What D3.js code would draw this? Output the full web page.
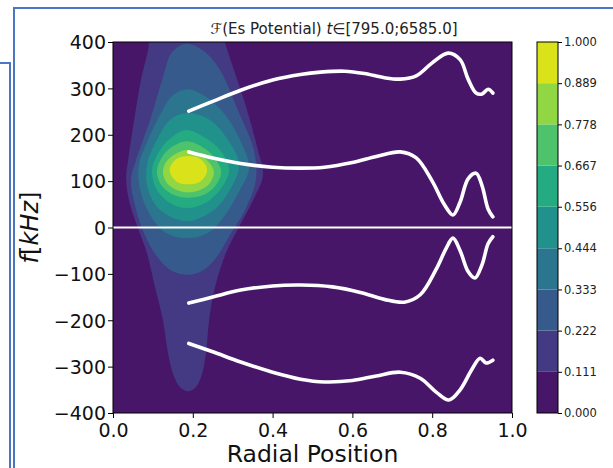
<!DOCTYPE html>
<html><head><meta charset="utf-8">
<script src="https://cdn.jsdelivr.net/npm/d3@7"></script>
<style>body{margin:0;background:#fff}svg{display:block}text{font-family:"DejaVu Sans",sans-serif}</style>
</head><body><svg id="c" width="613" height="468"></svg>
<script>
// ---- data ----
const levels = [0, 0.111, 0.222, 0.333, 0.444, 0.556, 0.667, 0.778, 0.889, 1.0];
const levelLabels = ["0.000","0.111","0.222","0.333","0.444","0.556","0.667","0.778","0.889","1.000"];
const xTicks = [0.0, 0.2, 0.4, 0.6, 0.8, 1.0];
const yTicks = [-400, -300, -200, -100, 0, 100, 200, 300, 400];
// contour outlines [radial, kHz] for thresholds levels[1]..levels[8]
const contour1 = [[.085,426],[.090,398],[.070,318],[.053,232],[.038,146],[.033,107],[.040,59],[.060,5],[.085,-55],[.105,-128],[.125,-199],[.138,-271],[.153,-322],[.170,-346],[.188,-353],[.206,-346],[.221,-322],[.233,-271],[.241,-199],[.256,-128],[.283,-55],[.318,5],[.351,59],[.376,113],[.363,167],[.336,253],[.303,340],[.281,398],[.273,426]];
const contour2 = [[.185,396],[.148,378],[.123,318],[.093,232],[.058,146],[.045,102],[.058,38],[.080,-16],[.113,-66],[.148,-94],[.185,-102],[.223,-94],[.258,-66],[.293,-16],[.331,38],[.358,102],[.353,167],[.313,253],[.268,340],[.231,378]];
const contour3 = [[.185,298],[.148,283],[.118,243],[.088,189],[.065,135],[.068,81],[.093,27],[.130,-10],[.185,-23],[.241,-10],[.281,27],[.318,81],[.341,128],[.318,189],[.281,243],[.231,283]];
const contour4 = [[.185,247],[.143,232],[.110,189],[.085,135],[.088,81],[.118,38],[.185,14],[.253,38],[.293,81],[.316,135],[.288,189],[.243,232]];
const contour5 = [[.185,210],[.148,195],[.118,167],[.098,124],[.110,81],[.143,53],[.185,42],[.231,53],[.268,81],[.291,124],[.268,167],[.228,195]];
const contour6 = [[.185,186],[.150,175],[.123,152],[.110,120],[.123,89],[.153,70],[.188,64],[.226,70],[.256,89],[.271,120],[.253,152],[.221,175]];
const contour7 = [[.188,167],[.155,158],[.133,141],[.125,120],[.135,96],[.160,81],[.188,76],[.218,81],[.243,96],[.253,120],[.240,141],[.216,158]];
const contour8 = [[.188,154],[.158,147],[.142,124],[.158,100],[.188,93],[.220,100],[.236,124],[.220,147]];
const contours = [contour1, contour2, contour3, contour4, contour5, contour6, contour7, contour8];
// white mode curves [radial, kHz]
const curveA = [[0.19,251],[0.25,272],[0.32,296],[0.40,318],[0.47,330],[0.52,335],[0.58,337],[0.63,332],[0.68,323],[0.72,320],[0.76,327],[0.80,355],[0.84,376],[0.87,362],[0.89,320],[0.91,290],[0.925,288],[0.94,298],[0.952,290]];
const curveB = [[0.19,163],[0.25,150],[0.32,138],[0.40,130],[0.47,128],[0.53,130],[0.60,140],[0.66,153],[0.72,163],[0.76,150],[0.80,100],[0.83,50],[0.852,27],[0.87,55],[0.89,105],[0.91,117],[0.925,90],[0.94,40],[0.952,23]];
const curveC = [[0.19,-163],[0.25,-150],[0.32,-135],[0.40,-126],[0.47,-124],[0.55,-128],[0.62,-140],[0.68,-155],[0.73,-161],[0.77,-145],[0.81,-90],[0.835,-45],[0.852,-23],[0.87,-50],[0.89,-95],[0.907,-109],[0.925,-80],[0.94,-35],[0.952,-20]];
const curveD = [[0.19,-250],[0.25,-268],[0.32,-290],[0.40,-312],[0.47,-327],[0.53,-333],[0.60,-330],[0.66,-320],[0.72,-312],[0.77,-325],[0.81,-355],[0.842,-372],[0.87,-350],[0.90,-305],[0.92,-282],[0.935,-292],[0.952,-286]];
const curves = [curveA, curveB, curveC, curveD];
const zeroLine = [[0,0],[1,0]];

// ---- layout ----
const svg = d3.select("#c");
const L = 113, R = 512, T = 42, B = 413;
const x = d3.scaleLinear().domain([0,1]).range([L,R]);
const y = d3.scaleLinear().domain([-400,400]).range([B,T]);
const col = i => d3.interpolateViridis((levels[i]+levels[i+1])/2);

// frame decorations (screenshot borders)
const deco = svg.append("g").attr("stroke","#4a76c4").attr("stroke-width",2).attr("fill","none");
deco.append("path").attr("d","M14,468 V8 H613");
deco.append("path").attr("d","M0,63 H10 V468");

svg.append("defs").append("clipPath").attr("id","pc").append("rect")
  .attr("x",L).attr("y",T).attr("width",R-L).attr("height",B-T);

const plot = svg.append("g").attr("clip-path","url(#pc)");
plot.append("rect").attr("x",L).attr("y",T).attr("width",R-L).attr("height",B-T).attr("fill",col(0));
const closedLine = d3.line().x(d=>x(d[0])).y(d=>y(d[1])).curve(d3.curveCatmullRomClosed.alpha(0.5));
contours.forEach((c,i)=>{
  plot.append("path").attr("d",closedLine(c)).attr("fill",col(i+1));
});
const openLine = d3.line().x(d=>x(d[0])).y(d=>y(d[1])).curve(d3.curveCatmullRom.alpha(0.5));
plot.append("path").attr("d",openLine(zeroLine)).attr("stroke","#fff").attr("stroke-width",2.2).attr("fill","none");
curves.forEach(c=>{
  plot.append("path").attr("d",openLine(c)).attr("stroke","#fff").attr("stroke-width",3.6)
    .attr("stroke-linecap","round").attr("fill","none");
});

// axes
const fmtMinus = v => (v<0? "\u2212"+Math.abs(v) : String(v));
const xa = svg.append("g").attr("transform",`translate(0,${B})`)
  .call(d3.axisBottom(x).tickValues(xTicks).tickFormat(d3.format(".1f")).tickSize(5).tickSizeOuter(0));
const ya = svg.append("g").attr("transform",`translate(${L},0)`)
  .call(d3.axisLeft(y).tickValues(yTicks).tickFormat(fmtMinus).tickSize(5).tickSizeOuter(0));
[xa,ya].forEach(a=>{
  a.select(".domain").remove();
  a.selectAll("line").attr("stroke","#000").attr("stroke-width",1);
  a.selectAll("text").attr("font-size",19).attr("fill","#111").attr("font-family","DejaVu Sans");
});
xa.selectAll("text").attr("dy","0.95em").attr("y",6);
ya.selectAll("text").attr("dy","0.36em").attr("x",-7);
svg.append("rect").attr("x",L).attr("y",T).attr("width",R-L).attr("height",B-T)
  .attr("fill","none").attr("stroke","#000").attr("stroke-width",1);

// labels
svg.append("text").attr("x",(L+R)/2).attr("y",462).attr("text-anchor","middle")
  .attr("font-size",23.5).attr("fill","#111").text("Radial Position");
const yl = svg.append("text").attr("transform",`translate(38,${(T+B)/2}) rotate(-90)`)
  .attr("text-anchor","middle").attr("font-size",24).attr("fill","#111");
yl.append("tspan").attr("font-style","italic").text("f");
yl.append("tspan").text("[");
yl.append("tspan").attr("font-style","italic").text("kHz");
yl.append("tspan").text("]");
const tt = svg.append("text").attr("x",334).attr("y",34).attr("text-anchor","middle")
  .attr("font-size",15).attr("fill","#222");
tt.append("tspan").text("\u2131(Es Potential) ");
tt.append("tspan").attr("font-style","italic").text("t");
tt.append("tspan").text("\u2208[795.0;6585.0]");

// colorbar
const CL = 537, CR = 558;
const cy = d3.scaleLinear().domain([0,1]).range([B,T]);
const cb = svg.append("g");
d3.range(levels.length-1).forEach(i=>{
  cb.append("rect").attr("x",CL).attr("width",CR-CL)
    .attr("y",cy(levels[i+1])).attr("height",cy(levels[i])-cy(levels[i+1])).attr("fill",col(i));
});
cb.append("rect").attr("x",CL).attr("y",T).attr("width",CR-CL).attr("height",B-T)
  .attr("fill","none").attr("stroke","#000").attr("stroke-width",1);
const ca = svg.append("g").attr("transform",`translate(${CR},0)`)
  .call(d3.axisRight(cy).tickValues(levels).tickFormat((d,i)=>levelLabels[i]).tickSize(4).tickSizeOuter(0));
ca.select(".domain").remove();
ca.selectAll("line").attr("stroke","#000");
ca.selectAll("text").attr("font-size",11.5).attr("fill","#222").attr("x",6).attr("font-family","DejaVu Sans");
</script></body></html>
